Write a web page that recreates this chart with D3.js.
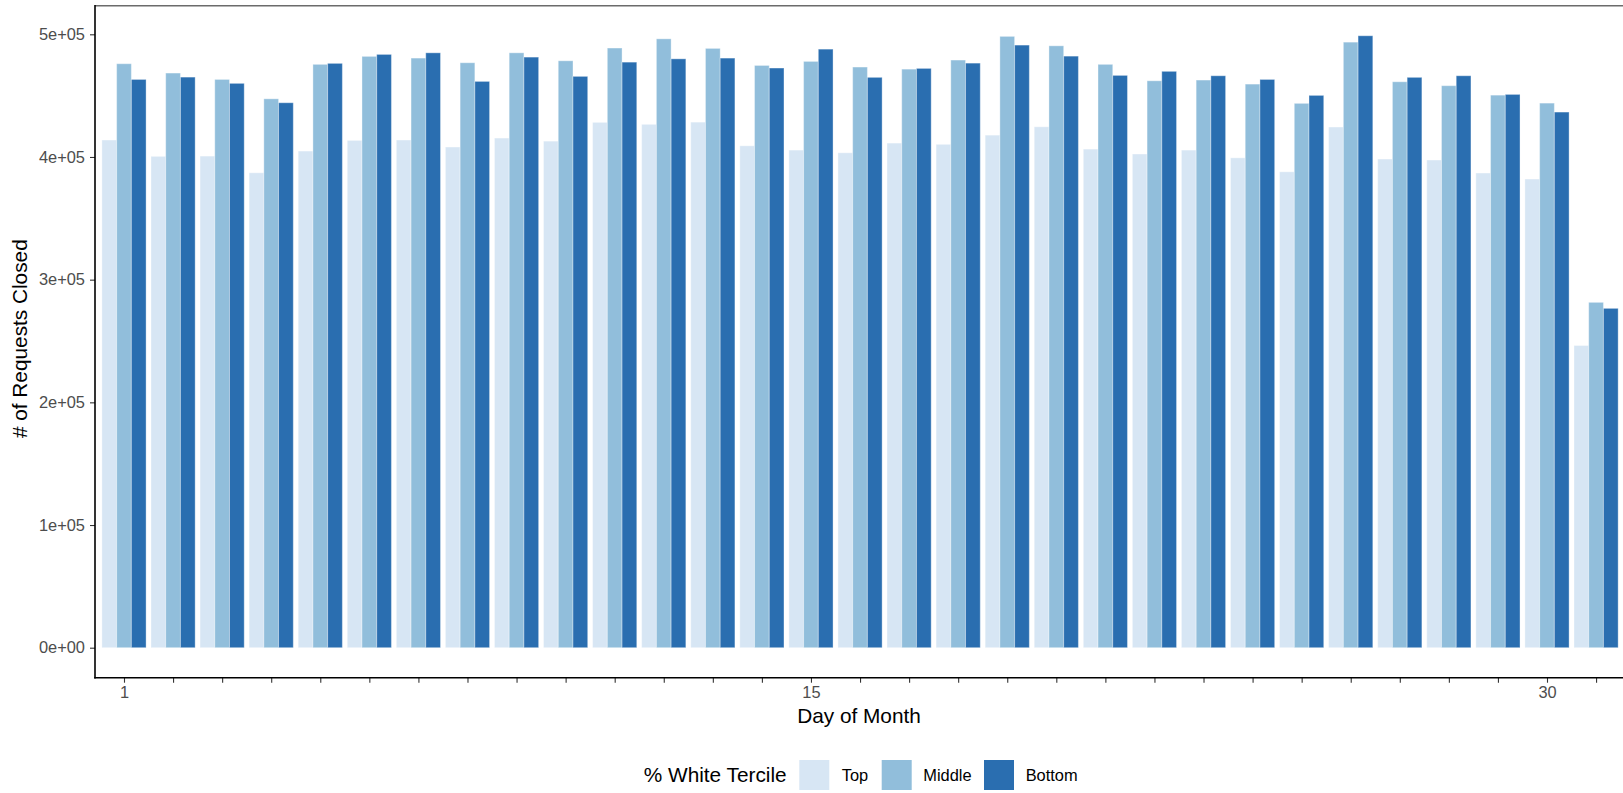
<!DOCTYPE html>
<html>
<head>
<meta charset="utf-8">
<script src="https://cdn.jsdelivr.net/npm/d3@7"></script>
<style>
  html, body { margin: 0; padding: 0; background: #fff; }
  svg { display: block; font-family: "Liberation Sans", Arial, Helvetica, sans-serif; }
</style>
</head>
<body>
<svg id="chart" width="1623" height="793"></svg>
<script>
// ---- Data ----
const days = d3.range(1, 32);
const series = ["Top", "Middle", "Bottom"];
const topValues = [413800, 400500, 400700, 387100, 404800, 413500, 413800, 408100, 415400, 412900,
  428200, 426600, 428400, 409100, 405600, 403400, 411300, 410300, 417800, 424600,
  406400, 402400, 405600, 399300, 387900, 424400, 398300, 397500, 386900, 382000, 246300];
const middleValues = [476000, 468400, 463200, 447400, 475500, 482000, 480600, 476800, 484900, 478400,
  488800, 496300, 488500, 474600, 477900, 473300, 471600, 479000, 498300, 490600,
  475500, 462100, 462700, 459400, 443700, 493600, 461300, 458100, 450400, 443900, 281500];
const bottomValues = [463200, 465100, 460000, 444200, 476300, 483600, 484900, 461600, 481400, 465700,
  477300, 480000, 480600, 472500, 487900, 464900, 472200, 476500, 491200, 482200,
  466500, 469800, 466200, 463200, 450200, 498800, 464900, 466200, 451000, 436600, 276600];
const yTickValues = [0, 100000, 200000, 300000, 400000, 500000];
const yTickLabels = ["0e+00", "1e+05", "2e+05", "3e+05", "4e+05", "5e+05"];
const xLabelDays = [1, 15, 30];
const colors = ["#d7e6f4", "#91bedb", "#2a6eb0"];

const valuesBySeries = { Top: topValues, Middle: middleValues, Bottom: bottomValues };
const rows = [];
days.forEach((d, i) => series.forEach(s => rows.push({ day: d, series: s, value: valuesBySeries[s][i] })));

// ---- Layout ----
const svg = d3.select("#chart");
const panelLeft = 95, panelTop = 5.7, panelBottom = 677.7, panelRight = 1623;
const smallFont = "16.4px", titleFont = "20.8px";

const x = d3.scaleLinear().domain([1, 30]).range([124, 1547]);
const y = d3.scaleLinear().domain([0, 500000]).range([647.7, 34.3]);
const color = d3.scaleOrdinal().domain(series).range(colors);
const groupWidth = x(1.9) - x(1);
const inner = d3.scaleBand().domain(series).range([-groupWidth / 2, groupWidth / 2]);

// clip to panel
svg.append("defs").append("clipPath").attr("id", "panelClip")
  .append("rect").attr("x", panelLeft).attr("y", panelTop)
  .attr("width", panelRight - panelLeft).attr("height", panelBottom - panelTop);

// bars
svg.append("g").attr("clip-path", "url(#panelClip)")
  .selectAll("rect").data(rows).join("rect")
  .attr("x", d => x(d.day) + inner(d.series))
  .attr("width", inner.bandwidth())
  .attr("y", d => y(d.value))
  .attr("height", d => y(0) - y(d.value))
  .attr("fill", d => color(d.series))
  .attr("stroke", "#ffffff")
  .attr("stroke-opacity", 0.35)
  .attr("stroke-width", 1);

// top border
svg.append("line")
  .attr("x1", panelLeft).attr("x2", panelRight)
  .attr("y1", panelTop).attr("y2", panelTop)
  .attr("stroke", "#6b6b6b").attr("stroke-width", 1.4);

// y axis
const yAxis = svg.append("g").attr("transform", `translate(${panelLeft},0)`)
  .call(d3.axisLeft(y).tickValues(yTickValues)
    .tickFormat((d, i) => yTickLabels[i]).tickSize(5).tickPadding(5));
yAxis.select(".domain").remove();
yAxis.selectAll(".tick line").attr("stroke", "#333").attr("stroke-width", 1.1);
yAxis.selectAll(".tick text").attr("fill", "#4d4d4d").style("font-size", smallFont)
  .style("font-family", "'Liberation Sans', Arial, sans-serif");
svg.append("line").attr("x1", panelLeft).attr("x2", panelLeft)
  .attr("y1", panelTop - 0.7).attr("y2", panelBottom + 0.8)
  .attr("stroke", "#000").attr("stroke-width", 1.6);

// x axis
const xAxis = svg.append("g").attr("transform", `translate(0,${panelBottom})`)
  .call(d3.axisBottom(x).tickValues(days)
    .tickFormat(d => xLabelDays.includes(d) ? String(d) : "").tickSize(5).tickPadding(4));
xAxis.select(".domain").remove();
xAxis.selectAll(".tick line").attr("stroke", "#333").attr("stroke-width", 1.1);
xAxis.selectAll(".tick text").attr("fill", "#4d4d4d").style("font-size", smallFont)
  .style("font-family", "'Liberation Sans', Arial, sans-serif");
svg.append("line").attr("x1", panelLeft - 0.8).attr("x2", panelRight)
  .attr("y1", panelBottom).attr("y2", panelBottom)
  .attr("stroke", "#000").attr("stroke-width", 1.6);

// axis titles
svg.append("text").attr("x", 859).attr("y", 723.3)
  .attr("text-anchor", "middle").style("font-size", titleFont).attr("fill", "#000")
  .text("Day of Month");
svg.append("text")
  .attr("transform", `translate(27,${(panelTop + panelBottom) / 2 - 3}) rotate(-90)`)
  .attr("text-anchor", "middle").style("font-size", titleFont).attr("fill", "#000")
  .text("# of Requests Closed");

// legend
const legend = svg.append("g");
legend.append("text").attr("x", 786.7).attr("y", 782).attr("text-anchor", "end")
  .style("font-size", titleFont).attr("fill", "#000").text("% White Tercile");
const keyX = [799.3, 881.7, 984];
const labelX = [841.7, 923.3, 1025.7];
series.forEach((s, i) => {
  legend.append("rect").attr("x", keyX[i]).attr("y", 760).attr("width", 30).attr("height", 30)
    .attr("fill", color(s));
  legend.append("text").attr("x", labelX[i]).attr("y", 781)
    .style("font-size", smallFont).attr("fill", "#000").text(s);
});
</script>
</body>
</html>
